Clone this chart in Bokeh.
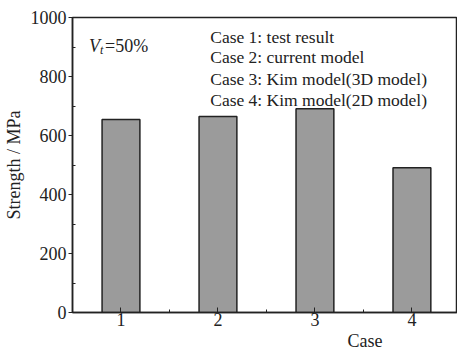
from bokeh.plotting import figure
from bokeh.models import Range1d, FixedTicker, Label, ColumnDataSource, Title
from bokeh.embed import file_html
from bokeh.resources import INLINE

cases = [1, 2, 3, 4]
strength = [654, 664, 691, 491]
y_ticks = [0, 200, 400, 600, 800, 1000]
y_minor = [100, 300, 500, 700, 900]
x_minor = [1.5, 2.5, 3.5]
legend_lines = ["Case 1: test result", "Case 2: current model",
                "Case 3: Kim model(3D model)", "Case 4: Kim model(2D model)"]
legend_y = [935, 865, 793, 722]

FONT = "Liberation Serif"
INK = "#222222"

p = figure(width=457, height=350, output_backend="svg", toolbar_location=None,
           x_range=Range1d(0.5, 4.47), y_range=Range1d(0, 1000),
           min_border_left=67, min_border_top=17, min_border_bottom=0, min_border_right=0)
p.grid.visible = False
p.outline_line_color = INK
p.outline_line_width = 1.5
p.background_fill_color = "white"
p.border_fill_color = "white"

src = ColumnDataSource(dict(x=cases, top=strength))
p.vbar(x="x", top="top", width=0.39, bottom=0, source=src,
       fill_color="#9b9b9b", line_color=INK, line_width=1.5)

xa = p.xaxis[0]
xa.ticker = FixedTicker(ticks=cases, minor_ticks=x_minor)
xa.major_tick_in = 5
xa.major_tick_out = 0
xa.minor_tick_in = 3
xa.minor_tick_out = 0
xa.axis_line_width = 1.5
xa.axis_line_color = INK
xa.major_tick_line_color = INK
xa.minor_tick_line_color = INK
xa.major_label_text_font = FONT
xa.major_label_text_font_size = "18px"
xa.major_label_text_color = INK
xa.major_label_standoff = 0

ya = p.yaxis[0]
ya.ticker = FixedTicker(ticks=y_ticks, minor_ticks=y_minor)
ya.major_tick_in = 0
ya.major_tick_out = 4
ya.minor_tick_in = 3
ya.minor_tick_out = 0
ya.axis_line_width = 1.5
ya.axis_line_color = INK
ya.major_tick_line_color = INK
ya.minor_tick_line_color = INK
ya.major_label_text_font = FONT
ya.major_label_text_font_size = "18px"
ya.major_label_text_color = INK
ya.major_label_standoff = 2
ya.axis_label = "Strength / MPa"
ya.axis_label_text_font = FONT
ya.axis_label_text_font_style = "normal"
ya.axis_label_text_font_size = "18px"
ya.axis_label_text_color = INK
ya.axis_label_standoff = 4

for txt, yy in zip(legend_lines, legend_y):
    p.add_layout(Label(x=1.92, y=yy, text=txt, text_font=FONT, text_font_size="17.5px",
                       text_color=INK, text_baseline="alphabetic"))

# V_t = 50%
p.add_layout(Label(x=0.67, y=903, text="V", text_font=FONT, text_font_size="18px",
                   text_font_style="italic", text_color=INK, text_baseline="alphabetic"))
p.add_layout(Label(x=0.67, y=903, x_offset=11, y_offset=-4, text="t", text_font=FONT,
                   text_font_size="12px", text_font_style="italic", text_color=INK,
                   text_baseline="alphabetic"))
p.add_layout(Label(x=0.67, y=903, x_offset=16, text="=50%", text_font=FONT,
                   text_font_size="18px", text_color=INK, text_baseline="alphabetic"))

# x axis title, placed under the gap between cases 3 and 4
p.add_layout(Title(text="Case", align="left", offset=275, standoff=0,
                   text_font=FONT, text_font_size="18px", text_font_style="normal",
                   text_color=INK, text_line_height=0.75), "below")

open("out.html", "w").write(file_html(p, INLINE))
